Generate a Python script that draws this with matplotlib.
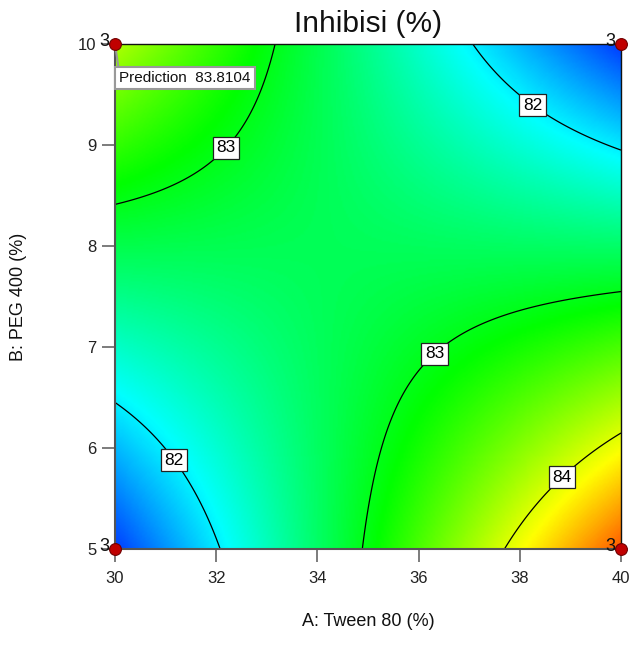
import numpy as np
import matplotlib
matplotlib.use("Agg")
import matplotlib.pyplot as plt
from matplotlib.colors import LinearSegmentedColormap

plt.rcParams['font.family'] = ['Liberation Sans', 'DejaVu Sans']

# ---- data ----
tween_range = [30, 40]            # A: Tween 80 (%)
peg_range = [5, 10]               # B: PEG 400 (%)
# predicted response at the four corners (rows: PEG 5, PEG 10; cols: Tween 30, Tween 40)
corner_values = [[81.26, 84.82],
                 [83.81, 81.25]]
contour_levels = [82, 83, 84]
label_positions = [(38.30, 9.43), (32.08, 9.03), (36.26, 6.96), (31.25, 5.91), (38.74, 5.76)]
design_A = [30, 40, 30, 40]
design_B = [5, 5, 10, 10]
design_reps = ["3", "3", "3", "3"]
x_ticks = [30, 32, 34, 36, 38, 40]
y_ticks = [5, 6, 7, 8, 9, 10]
prediction_text = "Prediction  83.8104"

# 2FI model in coded units, from the corner values
cv = np.array(corner_values)
c0 = cv.mean()
cA = (cv[0, 1] + cv[1, 1] - cv[0, 0] - cv[1, 0]) / 4
cB = (cv[1, 0] + cv[1, 1] - cv[0, 0] - cv[0, 1]) / 4
cAB = (cv[0, 0] + cv[1, 1] - cv[0, 1] - cv[1, 0]) / 4

A = np.linspace(tween_range[0], tween_range[1], 300)
B = np.linspace(peg_range[0], peg_range[1], 300)
AA, BB = np.meshgrid(A, B)
u = (AA - np.mean(tween_range)) / (np.ptp(tween_range) / 2)
v = (BB - np.mean(peg_range)) / (np.ptp(peg_range) / 2)
Z = c0 + cA * u + cB * v + cAB * u * v

cmap = LinearSegmentedColormap.from_list(
    "de", ["#0000ff", "#00ffff", "#00ff00", "#ffff00", "#ff0000"])

fig = plt.figure(figsize=(6.30, 6.62), dpi=100)
ax = fig.add_axes([115/630, (662-549)/662, 506/630, 505/662])

ax.imshow(Z, origin='lower', extent=[A[0], A[-1], B[0], B[-1]], aspect='auto',
          cmap=cmap, vmin=81.0, vmax=85.2, interpolation='bilinear')
cs = ax.contour(AA, BB, Z, levels=contour_levels, colors='black', linewidths=0.9)
texts = ax.clabel(cs, fmt='%d', inline=False, manual=label_positions, fontsize=12.5)
for t in texts:
    t.set_rotation(0)
    t.set_bbox(dict(boxstyle='square,pad=0.2', facecolor='white', edgecolor='#222222', linewidth=0.9))

ax.set_xlim(tween_range)
ax.set_ylim(peg_range)
ax.set_xticks(x_ticks)
ax.set_yticks(y_ticks)
ax.tick_params(direction='out', length=9.5, width=1.2, color='#666666', labelsize=12,
               labelcolor='#222222')
ax.tick_params(axis='x', pad=6)
ax.tick_params(axis='y', pad=4)

for s in ['bottom', 'left']:
    ax.spines[s].set_color('#555555')
    ax.spines[s].set_linewidth(1.5)
for s in ['top', 'right']:
    ax.spines[s].set_color('#111111')
    ax.spines[s].set_linewidth(1.0)

# design points
ax.plot(design_A, design_B, 'o', markersize=8.5, markerfacecolor='#c00000',
        markeredgecolor='#700000', markeredgewidth=0.8, clip_on=False, zorder=10)
for a, b, r in zip(design_A, design_B, design_reps):
    ax.annotate(r, xy=(a, b), xytext=(-4, 2), textcoords='offset points', ha='right',
                va='center', fontsize=13, color='#111111', annotation_clip=False, zorder=11)

# prediction flag
ax.annotate(prediction_text, xy=(tween_range[0], peg_range[1]), xytext=(4, -27),
            textcoords='offset pixels', ha='left', va='top', fontsize=11, color='#111111',
            bbox=dict(boxstyle='square,pad=0.28', facecolor='white', edgecolor='#999999', linewidth=1.5),
            arrowprops=dict(arrowstyle='-', color='#999999', lw=1.5, relpos=(0, 1),
                            shrinkA=0, shrinkB=0), zorder=9)

ax.set_title("Inhibisi (%)", fontsize=21.5, pad=9, color='#111111')
ax.set_xlabel("A: Tween 80 (%)", fontsize=13, color='#111111')
ax.set_ylabel("B: PEG 400 (%)", fontsize=13, color='#111111')
ax.xaxis.label.set_va('center')
ax.yaxis.label.set_va('center')
ax.xaxis.set_label_coords(0.5, (549 - 621) / 505)
ax.yaxis.set_label_coords((19 - 115) / 506, 0.5)

fig.savefig("out.png", dpi=100)
